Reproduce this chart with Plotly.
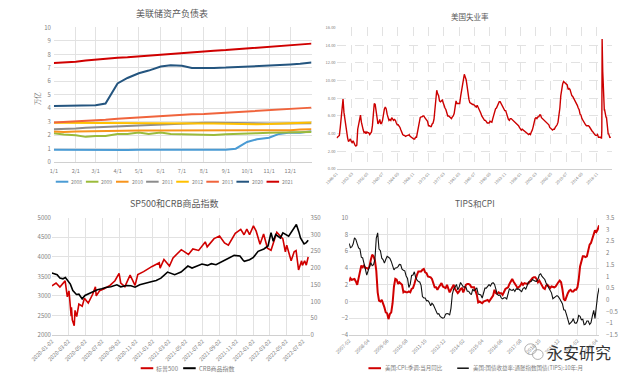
import plotly.graph_objects as go

W, H = 629, 381
def fx(p): return p / W
def fy(p): return 1 - p / H

FONT = "Noto Sans CJK SC, Liberation Sans, sans-serif"
GRID = "#e2e2e2"
TXT = "#808080"
TITLE = "#595959"

# ---------------- Chart 1: 美联储资产负债表 (万亿) ----------------
fed_dates = ["2021-01-01", "2021-01-15", "2021-02-01", "2021-02-15", "2021-03-01", "2021-03-15",
             "2021-04-01", "2021-04-15", "2021-05-01", "2021-05-15", "2021-06-01", "2021-06-15",
             "2021-07-01", "2021-07-15", "2021-08-01", "2021-08-15", "2021-09-01", "2021-09-15",
             "2021-10-01", "2021-10-15", "2021-11-01", "2021-11-15", "2021-12-01", "2021-12-15",
             "2021-12-31"]
fed_2008 = [0.93, 0.92, 0.92, 0.91, 0.92, 0.92, 0.92, 0.91, 0.92, 0.92, 0.93, 0.92, 0.92,
            0.93, 0.93, 0.93, 0.93, 1.00, 1.50, 1.70, 1.82, 2.10, 2.20, 2.18, 2.30]
fed_2009 = [2.15, 2.05, 2.00, 1.88, 1.95, 1.95, 2.10, 2.10, 2.20, 2.10, 2.20, 2.10, 2.08,
            2.05, 2.05, 2.02, 2.08, 2.12, 2.15, 2.15, 2.18, 2.20, 2.22, 2.25, 2.25]
fed_2010 = [2.28, 2.25, 2.28, 2.30, 2.32, 2.33, 2.35, 2.35, 2.36, 2.36, 2.36, 2.36, 2.36,
            2.35, 2.35, 2.35, 2.33, 2.33, 2.33, 2.33, 2.33, 2.33, 2.38, 2.42, 2.45]
fed_2011 = [2.45, 2.45, 2.50, 2.55, 2.58, 2.60, 2.65, 2.68, 2.72, 2.75, 2.78, 2.82, 2.88,
            2.90, 2.92, 2.92, 2.90, 2.90, 2.90, 2.90, 2.88, 2.88, 2.87, 2.88, 2.90]
fed_2012 = [2.92, 2.92, 2.92, 2.93, 2.92, 2.90, 2.90, 2.90, 2.90, 2.90, 2.90, 2.90, 2.88,
            2.88, 2.88, 2.87, 2.85, 2.83, 2.80, 2.82, 2.83, 2.85, 2.88, 2.92, 2.95]
fed_2013 = [2.95, 2.98, 3.05, 3.08, 3.10, 3.15, 3.22, 3.27, 3.32, 3.38, 3.42, 3.47, 3.50,
            3.55, 3.58, 3.62, 3.68, 3.72, 3.76, 3.80, 3.85, 3.90, 3.95, 4.00, 4.05]
fed_2020 = [4.18, 4.18, 4.20, 4.20, 4.22, 4.35, 5.85, 6.25, 6.60, 6.80, 7.10, 7.20, 7.15,
            7.00, 6.98, 7.00, 7.02, 7.05, 7.10, 7.15, 7.20, 7.22, 7.25, 7.30, 7.40]
fed_2021 = [7.36, 7.40, 7.45, 7.55, 7.62, 7.65, 7.75, 7.78, 7.85, 7.88, 7.95, 8.00, 8.10,
            8.15, 8.22, 8.28, 8.32, 8.38, 8.45, 8.50, 8.58, 8.62, 8.68, 8.75, 8.80]
fed_names = ["2008", "2009", "2010", "2011", "2012", "2013", "2020", "2021"]
fed_month_ticks = ["1/1", "2/1", "3/1", "4/1", "5/1", "6/1", "7/1", "8/1", "9/1", "10/1", "11/1", "12/1"]
fed_colors = ["#4a9bd4", "#9bbb3b", "#f7941d", "#8c8c8c", "#ffc000", "#f0643c", "#24557f", "#d00000"]

# ---------------- Chart 2: 美国失业率 ----------------
unemp_quarterly = [
    3.5, 3.6, 3.8, 3.8, 4.7, 5.9, 6.6, 7.9, 6.4, 5.6, 4.6, 4.2, 3.5, 3.1, 3.2, 3.4,
    3.1, 3.0, 3.2, 2.8, 2.7, 2.6, 2.7, 4.5, 5.2, 5.8, 6.1, 5.3, 4.7, 4.4, 4.1, 4.2,
    4.0, 4.2, 4.1, 4.1, 3.9, 4.1, 4.2, 4.9, 6.3, 7.4, 7.3, 6.4, 5.8, 5.1, 5.3, 5.6,
    5.1, 5.2, 5.5, 6.3, 6.8, 7.0, 6.8, 6.2, 5.6, 5.5, 5.6, 5.5, 5.8, 5.7, 5.5, 5.6,
    5.5, 5.2, 5.0, 5.0, 4.9, 4.7, 4.4, 4.1, 3.9, 3.8, 3.8, 3.7, 3.8, 3.8, 3.8, 3.9,
    3.7, 3.6, 3.5, 3.4, 3.4, 3.4, 3.6, 3.6, 4.2, 4.8, 5.2, 5.8, 5.9, 5.9, 6.0, 6.0,
    5.8, 5.7, 5.6, 5.4, 4.9, 4.9, 4.8, 4.8, 5.1, 5.2, 5.6, 6.6, 8.3, 8.9, 8.5, 8.3,
    7.7, 7.6, 7.7, 7.8, 7.5, 7.1, 6.9, 6.7, 6.3, 6.0, 6.0, 5.9, 5.9, 5.7, 5.9, 6.0,
    6.3, 7.3, 7.7, 7.4, 7.4, 7.4, 7.4, 8.2, 8.8, 9.4, 9.9, 10.7, 10.4, 10.1, 9.4, 8.5,
    7.9, 7.5, 7.4, 7.3, 7.3, 7.3, 7.2, 7.0, 7.0, 7.2, 7.0, 6.8, 6.6, 6.3, 6.0, 5.8,
    5.7, 5.5, 5.5, 5.3, 5.2, 5.2, 5.2, 5.4, 5.3, 5.3, 5.7, 6.1, 6.6, 6.8, 6.9, 7.1,
    7.4, 7.6, 7.6, 7.4, 7.2, 7.1, 6.8, 6.6, 6.6, 6.2, 6.0, 5.6, 5.5, 5.7, 5.7, 5.6,
    5.5, 5.5, 5.3, 5.3, 5.2, 5.0, 4.9, 4.7, 4.6, 4.4, 4.5, 4.4, 4.3, 4.3, 4.2, 4.1,
    4.0, 3.9, 4.0, 3.9, 4.2, 4.4, 4.8, 5.5, 5.7, 5.8, 5.7, 5.9, 5.9, 6.1, 6.1, 5.8,
    5.7, 5.6, 5.4, 5.4, 5.3, 5.1, 5.0, 5.0, 4.7, 4.6, 4.6, 4.4, 4.5, 4.5, 4.7, 4.8,
    5.0, 5.3, 6.0, 6.9, 8.3, 9.3, 9.6, 9.9, 9.8, 9.6, 9.5, 9.5, 9.0, 9.1, 9.0, 8.6,
    8.3, 8.2, 8.0, 7.8, 7.7, 7.5, 7.2, 6.9, 6.7, 6.2, 6.1, 5.7, 5.5, 5.4, 5.1, 5.0,
    4.9, 4.9, 4.9, 4.8, 4.6, 4.4, 4.3, 4.2, 4.0, 3.9, 3.8, 3.8, 3.9, 3.6, 3.6, 3.6,
]
unemp_quarter_dates = [f"{y}-{m:02d}-01" for y in range(1948, 2020) for m in (1, 4, 7, 10)]
unemp_recent_dates = [f"{y}-{m:02d}-01" for y in (2020, 2021, 2022) for m in range(1, 13)][:31]
unemp_recent = [3.5, 3.5, 4.4, 14.7, 13.2, 11.0, 10.2, 8.4, 7.9, 6.9, 6.7, 6.7,
                6.4, 6.2, 6.0, 6.1, 5.8, 5.9, 5.4, 5.2, 4.7, 4.6, 4.2, 3.9,
                4.0, 3.8, 3.6, 3.6, 3.6, 3.6, 3.5]
unemp_tick_labels = ["1948-01", "1952-03", "1956-05", "1960-07", "1964-09", "1968-11",
                     "1973-01", "1977-03", "1981-05", "1985-07", "1989-09", "1993-11",
                     "1998-01", "2002-03", "2006-05", "2010-07", "2014-09", "2018-11"]

# ---------------- Chart 3: SP500和CRB商品指数 ----------------
spx_dates = ["2020-01-02", "2020-01-17", "2020-01-31", "2020-02-19", "2020-02-27", "2020-03-04",
             "2020-03-12", "2020-03-13", "2020-03-16", "2020-03-23", "2020-03-26", "2020-04-01",
             "2020-04-09", "2020-04-21", "2020-04-29", "2020-05-13", "2020-05-29", "2020-06-08",
             "2020-06-11", "2020-06-23", "2020-07-10", "2020-07-31", "2020-08-18", "2020-09-02",
             "2020-09-08", "2020-09-23", "2020-10-12", "2020-10-30", "2020-11-09", "2020-11-30",
             "2020-12-31", "2021-01-26", "2021-01-29", "2021-02-12", "2021-03-04", "2021-03-17",
             "2021-04-16", "2021-05-12", "2021-05-28", "2021-06-18", "2021-07-12", "2021-07-19",
             "2021-08-13", "2021-09-02", "2021-09-20", "2021-10-04", "2021-10-29", "2021-11-18",
             "2021-11-30", "2021-12-10", "2021-12-20", "2022-01-03", "2022-01-13", "2022-01-27",
             "2022-02-09", "2022-02-23", "2022-03-08", "2022-03-29", "2022-04-20", "2022-04-29",
             "2022-05-04", "2022-05-20", "2022-05-31", "2022-06-07", "2022-06-16", "2022-06-27",
             "2022-06-30", "2022-07-08", "2022-07-14", "2022-07-21"]
spx = [3258, 3330, 3226, 3386, 2979, 3130, 2481, 2711, 2386, 2237, 2630, 2470,
       2790, 2737, 2939, 2820, 3044, 3232, 3002, 3131, 3185, 3271, 3390, 3580,
       3332, 3237, 3534, 3270, 3550, 3622, 3756, 3850, 3714, 3934, 3768, 3974,
       4185, 4063, 4204, 4166, 4384, 4258, 4468, 4537, 4358, 4300, 4605, 4704,
       4567, 4712, 4568, 4796, 4659, 4326, 4587, 4225, 4170, 4631, 4460, 4131,
       4300, 3901, 4132, 4161, 3666, 3900, 3785, 3899, 3790, 3998]
crb_dates = ["2020-01-02", "2020-01-08", "2020-01-21", "2020-01-31", "2020-02-11", "2020-02-20",
             "2020-02-28", "2020-03-09", "2020-03-18", "2020-03-31", "2020-04-09", "2020-04-21",
             "2020-05-01", "2020-05-15", "2020-06-01", "2020-06-15", "2020-07-01", "2020-07-15",
             "2020-08-03", "2020-08-25", "2020-09-08", "2020-09-30", "2020-10-15", "2020-10-30",
             "2020-11-16", "2020-12-01", "2020-12-31", "2021-01-15", "2021-02-01", "2021-02-25",
             "2021-03-23", "2021-04-15", "2021-05-10", "2021-05-25", "2021-06-15", "2021-06-30",
             "2021-07-20", "2021-08-03", "2021-08-20", "2021-09-15", "2021-10-01", "2021-10-25",
             "2021-11-15", "2021-11-26", "2021-12-01", "2021-12-20", "2022-01-03", "2022-01-20",
             "2022-02-10", "2022-02-25", "2022-03-08", "2022-03-16", "2022-03-25", "2022-04-11",
             "2022-04-20", "2022-05-11", "2022-05-25", "2022-06-08", "2022-06-17", "2022-06-23",
             "2022-07-06", "2022-07-14", "2022-07-21"]
crb = [185, 183, 180, 170, 168, 172, 162, 152, 133, 121, 122, 108,
       118, 124, 130, 135, 138, 142, 144, 150, 144, 148, 147, 143,
       150, 154, 160, 163, 170, 188, 180, 188, 206, 200, 206, 212,
       208, 213, 210, 220, 228, 238, 236, 224, 220, 225, 232, 250,
       257, 266, 306, 280, 300, 290, 305, 295, 313, 330, 308, 290,
       272, 276, 283]
spx_tick_labels = ["2020-01-02", "2020-03-02", "2020-05-02", "2020-07-02", "2020-09-02", "2020-11-02",
                   "2021-01-02", "2021-03-02", "2021-05-02", "2021-07-02", "2021-09-02", "2021-11-02",
                   "2022-01-02", "2022-03-02", "2022-05-02", "2022-07-02"]

# ---------------- Chart 4: TIPS和CPI ----------------
cpi_dates = [f"{y}-{m:02d}-01" for y in range(2007, 2023) for m in range(1, 13)][1:186]
cpi_yoy = [
    2.4, 2.8, 2.6, 2.7, 2.7, 2.4, 2.0, 2.8, 3.5, 4.3, 4.1,
    4.3, 4.0, 4.0, 3.9, 4.2, 5.0, 5.6, 5.4, 4.9, 3.7, 1.1, 0.1,
    0.0, 0.2, -0.4, -0.7, -1.3, -1.4, -2.1, -1.5, -1.3, -0.2, 1.8, 2.7,
    2.6, 2.1, 2.3, 2.2, 2.0, 1.1, 1.2, 1.1, 1.1, 1.2, 1.1, 1.5,
    1.6, 2.1, 2.7, 3.2, 3.6, 3.6, 3.6, 3.8, 3.9, 3.5, 3.4, 3.0,
    2.9, 2.9, 2.7, 2.3, 1.7, 1.7, 1.4, 1.7, 2.0, 2.2, 1.8, 1.7,
    1.6, 2.0, 1.5, 1.1, 1.4, 1.8, 2.0, 1.5, 1.2, 1.0, 1.2, 1.5,
    1.6, 1.1, 1.5, 2.0, 2.1, 2.1, 2.0, 1.7, 1.7, 1.7, 1.3, 0.8,
    -0.1, 0.0, -0.1, -0.2, 0.0, 0.1, 0.2, 0.2, 0.0, 0.2, 0.5, 0.7,
    1.4, 1.0, 0.9, 1.1, 1.0, 1.0, 0.8, 1.1, 1.5, 1.6, 1.7, 2.1,
    2.5, 2.7, 2.4, 2.2, 1.9, 1.6, 1.7, 1.9, 2.2, 2.0, 2.2, 2.1,
    2.1, 2.2, 2.4, 2.5, 2.8, 2.9, 2.9, 2.7, 2.3, 2.5, 2.2, 1.9,
    1.6, 1.5, 1.9, 2.0, 1.8, 1.6, 1.8, 1.7, 1.7, 1.8, 2.1, 2.3,
    2.5, 2.3, 1.5, 0.3, 0.1, 0.6, 1.0, 1.3, 1.4, 1.2, 1.2, 1.4,
    1.4, 1.7, 2.6, 4.2, 5.0, 5.4, 5.4, 5.3, 5.4, 6.2, 6.8, 7.0,
    7.5, 7.9, 8.5, 8.3, 8.6, 9.1,
]
tips_10y = [
    2.41, 2.23, 2.26, 2.38, 2.65, 2.58, 2.39, 2.22, 2.17, 1.82, 1.79,
    1.47, 1.30, 1.06, 1.24, 1.47, 1.59, 1.46, 1.50, 1.74, 2.64, 2.86, 2.17,
    2.10, 1.78, 1.72, 1.57, 1.72, 1.86, 1.82, 1.77, 1.64, 1.48, 1.28, 1.36,
    1.37, 1.42, 1.51, 1.50, 1.31, 1.26, 1.24, 1.02, 0.91, 0.53, 0.67, 1.04,
    1.06, 1.20, 0.96, 0.86, 0.78, 0.76, 0.62, 0.14, 0.08, 0.08, -0.04, -0.03,
    -0.11, -0.25, -0.14, -0.21, -0.34, -0.50, -0.60, -0.59, -0.71, -0.75, -0.78, -0.76,
    -0.61, -0.58, -0.59, -0.65, -0.36, 0.25, 0.46, 0.55, 0.66, 0.43, 0.55, 0.74,
    0.63, 0.55, 0.56, 0.54, 0.37, 0.37, 0.28, 0.22, 0.46, 0.38, 0.45, 0.51,
    0.25, 0.24, 0.21, 0.08, 0.33, 0.50, 0.50, 0.56, 0.65, 0.59, 0.70, 0.73,
    0.67, 0.46, 0.24, 0.19, 0.21, 0.08, 0.04, 0.09, 0.09, 0.04, 0.23, 0.48,
    0.42, 0.40, 0.45, 0.36, 0.47, 0.46, 0.46, 0.40, 0.35, 0.48, 0.53, 0.45,
    0.59, 0.76, 0.77, 0.78, 0.87, 0.82, 0.80, 0.79, 0.88, 1.07, 1.11, 1.00,
    0.94, 0.87, 0.72, 0.60, 0.54, 0.37, 0.30, 0.05, 0.12, 0.14, 0.18, 0.14,
    0.05, -0.08, -0.16, -0.42, -0.44, -0.63, -0.88, -1.04, -0.98, -0.92, -0.80, -0.98,
    -1.00, -0.91, -0.66, -0.70, -0.85, -0.83, -1.06, -1.03, -0.90, -0.90, -1.05, -0.98,
    -0.69, -0.45, -0.79, -0.09, 0.21, 0.51,
]
tips_tick_labels = ["2007-02", "2008-04", "2009-06", "2010-08", "2011-10", "2012-12", "2014-02",
                    "2015-04", "2016-06", "2017-08", "2018-10", "2019-12", "2021-02", "2022-04"]

# ================= figure =================
fig = go.Figure()

fed_series = [fed_2008, fed_2009, fed_2010, fed_2011, fed_2012, fed_2013, fed_2020, fed_2021]
for name, vals, col in zip(fed_names, fed_series, fed_colors):
    fig.add_trace(go.Scatter(x=fed_dates, y=vals, name=name, mode="lines",
                             line=dict(color=col, width=2), xaxis="x", yaxis="y", showlegend=False))

fig.add_trace(go.Scatter(x=unemp_quarter_dates + unemp_recent_dates, y=unemp_quarterly + unemp_recent,
                         mode="lines", line=dict(color="#cc0000", width=1.4),
                         xaxis="x2", yaxis="y2", showlegend=False))

fig.add_trace(go.Scatter(x=spx_dates, y=spx, name="标普500", mode="lines",
                         line=dict(color="#d00000", width=1.6), xaxis="x3", yaxis="y3", showlegend=False))
fig.add_trace(go.Scatter(x=crb_dates, y=crb, name="CRB商品指数", mode="lines",
                         line=dict(color="#000000", width=1.6), xaxis="x3", yaxis="y4", showlegend=False))

fig.add_trace(go.Scatter(x=cpi_dates, y=cpi_yoy, name="美国:CPI:季调:当月同比", mode="lines",
                         line=dict(color="#d00000", width=2), xaxis="x4", yaxis="y5", showlegend=False))
fig.add_trace(go.Scatter(x=cpi_dates, y=tips_10y, name="TIPS", mode="lines",
                         line=dict(color="#111111", width=1.1), xaxis="x4", yaxis="y6", showlegend=False))

tick_font = dict(family=FONT, size=6, color=TXT)
common_x = dict(type="date", showgrid=True, gridcolor=GRID, gridwidth=1, ticks="",
                showline=True, linecolor="#d0d0d0", zeroline=False, tickfont=tick_font)
common_y = dict(showgrid=True, gridcolor=GRID, gridwidth=1, ticks="", zeroline=False,
                showline=False, tickfont=tick_font)

fig.update_layout(
    width=W, height=H, margin=dict(l=0, r=0, t=0, b=0),
    paper_bgcolor="white", plot_bgcolor="white",
    font=dict(family=FONT, color=TXT),
    xaxis=dict(common_x, domain=[fx(33), fx(300)], anchor="y",
               range=["2021-01-01", "2021-12-31"],
               tickvals=[f"2021-{m:02d}-01" for m in range(1, 13)], ticktext=fed_month_ticks,
               tickangle=0, ticklabelstandoff=3, tickfont=dict(family=FONT, size=5.5, color=TXT)),
    yaxis=dict(common_y, domain=[fy(161), fy(23)], anchor="x", range=[0, 10], dtick=1,
               ticklabelstandoff=2, tickfont=dict(family=FONT, size=6, color=TXT)),
    xaxis2=dict(common_x, domain=[fx(326), fx(611)], anchor="y2",
                range=["1948-01-01", "2022-11-01"],
                tickvals=[s + "-01" for s in unemp_tick_labels], ticktext=unemp_tick_labels,
                tickangle=-45, griddash="dash", tickfont=dict(family=FONT, size=4, color=TXT)),
    yaxis2=dict(common_y, domain=[fy(168), fy(23)], anchor="x2", range=[0, 16], dtick=2,
                tickformat=".2f", griddash="dash", tickfont=dict(family=FONT, size=4, color=TXT)),
    xaxis3=dict(common_x, domain=[fx(31), fx(298)], anchor="y3",
                range=["2020-01-02", "2022-07-26"],
                tickvals=spx_tick_labels, ticktext=spx_tick_labels, tickangle=-45,
                tickfont=dict(family=FONT, size=5.5, color=TXT)),
    yaxis3=dict(common_y, domain=[fy(338), fy(218)], anchor="x3", range=[2000, 5000], dtick=500,
                tickfont=dict(family=FONT, size=6, color=TXT)),
    yaxis4=dict(common_y, overlaying="y3", side="right", anchor="x3", range=[0, 350], dtick=50,
                showgrid=False, tickfont=dict(family=FONT, size=6, color=TXT)),
    xaxis4=dict(common_x, domain=[fx(339), fx(598)], anchor="y5",
                range=["2007-02-01", "2022-06-01"],
                tickvals=[s + "-01" for s in tips_tick_labels], ticktext=tips_tick_labels,
                tickangle=-45, tickfont=dict(family=FONT, size=5, color=TXT)),
    yaxis5=dict(common_y, domain=[fy(338), fy(218)], anchor="x4", range=[-4, 10], dtick=2,
                tickfont=dict(family=FONT, size=6, color=TXT)),
    yaxis6=dict(common_y, overlaying="y5", side="right", anchor="x4", range=[-1.5, 3.5], dtick=0.5,
                showgrid=False, tickfont=dict(family=FONT, size=6, color=TXT), ticklabelstandoff=6),
)

ann = []
def text(x, y, s, size=6, color=TXT, xanchor="center", angle=0):
    ann.append(dict(x=fx(x), y=fy(y), xref="paper", yref="paper", text=s, showarrow=False,
                    xanchor=xanchor, yanchor="middle", textangle=angle,
                    font=dict(family=FONT, size=size, color=color)))

# titles
text(155, 9, "美联储资产负债表", size=9, color=TITLE)
text(464, 12, "美国失业率", size=7.5, color=TITLE)
text(157, 203, "SP500和CRB商品指数", size=9, color=TITLE)
text(469, 203, "TIPS和CPI", size=8.5, color=TITLE)
text(15, 95, "万亿", size=6.5, color=TXT, angle=-90)

shapes = []
def legline(x0, x1, y, color, width=2):
    shapes.append(dict(type="line", xref="paper", yref="paper", x0=fx(x0), x1=fx(x1),
                       y0=fy(y), y1=fy(y), line=dict(color=color, width=width)))

# chart 1 legend
for i, (name, col) in enumerate(zip(fed_names, fed_colors)):
    x0 = 35 + i * 31.2
    legline(x0, x0 + 13, 181, col)
    text(x0 + 14, 181, name, size=5, xanchor="left")

# chart 3 legend
legline(123, 136, 372, "#d00000")
text(137, 372, "标普500", size=6, xanchor="left")
legline(167, 180, 372, "#000000")
text(181, 372, "CRB商品指数", size=6, xanchor="left")

# chart 4 legend
legline(359, 372, 372, "#d00000")
text(374, 372, "美国:CPI:季调:当月同比", size=5.5, xanchor="left")
legline(451, 463, 372, "#111111", 1.5)
text(465, 372, "美国:国债收益率:通胀指数国债(TIPS):10年:月", size=5.5, xanchor="left")

# watermark
shapes.append(dict(type="circle", xref="paper", yref="paper", x0=fx(521), x1=fx(533),
                   y0=fy(358), y1=fy(347), line=dict(color="#9a9a9a", width=0.8)))
shapes.append(dict(type="circle", xref="paper", yref="paper", x0=fx(529), x1=fx(540),
                   y0=fy(363), y1=fy(353), line=dict(color="#9a9a9a", width=0.8)))
text(577, 355, "永安研究", size=16, color="#333333")

fig.update_layout(annotations=ann, shapes=shapes)
fig.write_html("out.html", config={"displayModeBar": False},
               post_script="document.body.style.margin='0';document.body.style.padding='0';")
